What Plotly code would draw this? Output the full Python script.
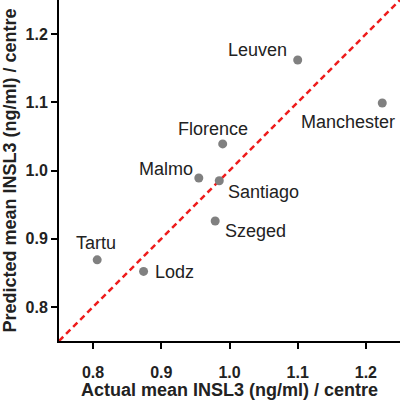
import plotly.graph_objects as go

centres = ["Leuven", "Manchester", "Florence", "Malmo", "Santiago", "Szeged", "Tartu", "Lodz"]
actual = [1.100, 1.224, 0.990, 0.955, 0.985, 0.979, 0.806, 0.874]
predicted = [1.162, 1.099, 1.039, 0.989, 0.985, 0.926, 0.869, 0.852]
# label pixel offsets (x, y-up)
label_dx = [-40, -34, -10, -33, 44, 40, -1, 31]
label_dy = [10, -19, 15, 9, -11, -10, 17, -1]

tick_vals = [0.8, 0.9, 1.0, 1.1, 1.2]
tick_text = ["0.8", "0.9", "1.0", "1.1", "1.2"]
axis_range = [0.75, 1.25]
identity = [0.75, 1.25]

FONT = "Liberation Sans, Arial"

fig = go.Figure()
fig.add_trace(go.Scatter(x=identity, y=identity, mode="lines",
                         line=dict(color="#ee1c1c", width=2.5, dash="6px,4px"),
                         hoverinfo="skip", cliponaxis=False))
fig.add_trace(go.Scatter(x=actual, y=predicted, mode="markers",
                         marker=dict(size=9, color="#808080"), cliponaxis=False))

for name, xv, yv, dx, dy in zip(centres, actual, predicted, label_dx, label_dy):
    fig.add_annotation(x=xv, y=yv, text=name, showarrow=False,
                       xshift=dx, yshift=dy,
                       font=dict(family=FONT, size=18, color="#222222"))

axis_common = dict(range=axis_range, tickvals=tick_vals, ticktext=tick_text,
                   showline=True, linecolor="black", linewidth=2,
                   ticks="outside", ticklen=6, tickwidth=2, tickcolor="black",
                   showgrid=False, zeroline=False, automargin=False,
                   tickfont=dict(family=FONT, size=16, color="#222222", weight="bold"))

fig.update_xaxes(**axis_common, ticklabelstandoff=10,
                 title=dict(text="<b>Actual mean INSL3 (ng/ml) / centre</b>", standoff=10,
                            font=dict(family=FONT, size=18, color="#222222")))
fig.update_yaxes(**axis_common,
                 title=dict(text="<b>Predicted mean INSL3 (ng/ml) / centre</b>", standoff=6,
                            font=dict(family=FONT, size=18, color="#222222")))

fig.update_layout(width=400, height=400, margin=dict(l=59, r=0, t=0, b=59),
                  plot_bgcolor="white", paper_bgcolor="white", showlegend=False)

fig.write_html("out.html", config={"displayModeBar": False},
               post_script="document.body.style.margin='0';")
